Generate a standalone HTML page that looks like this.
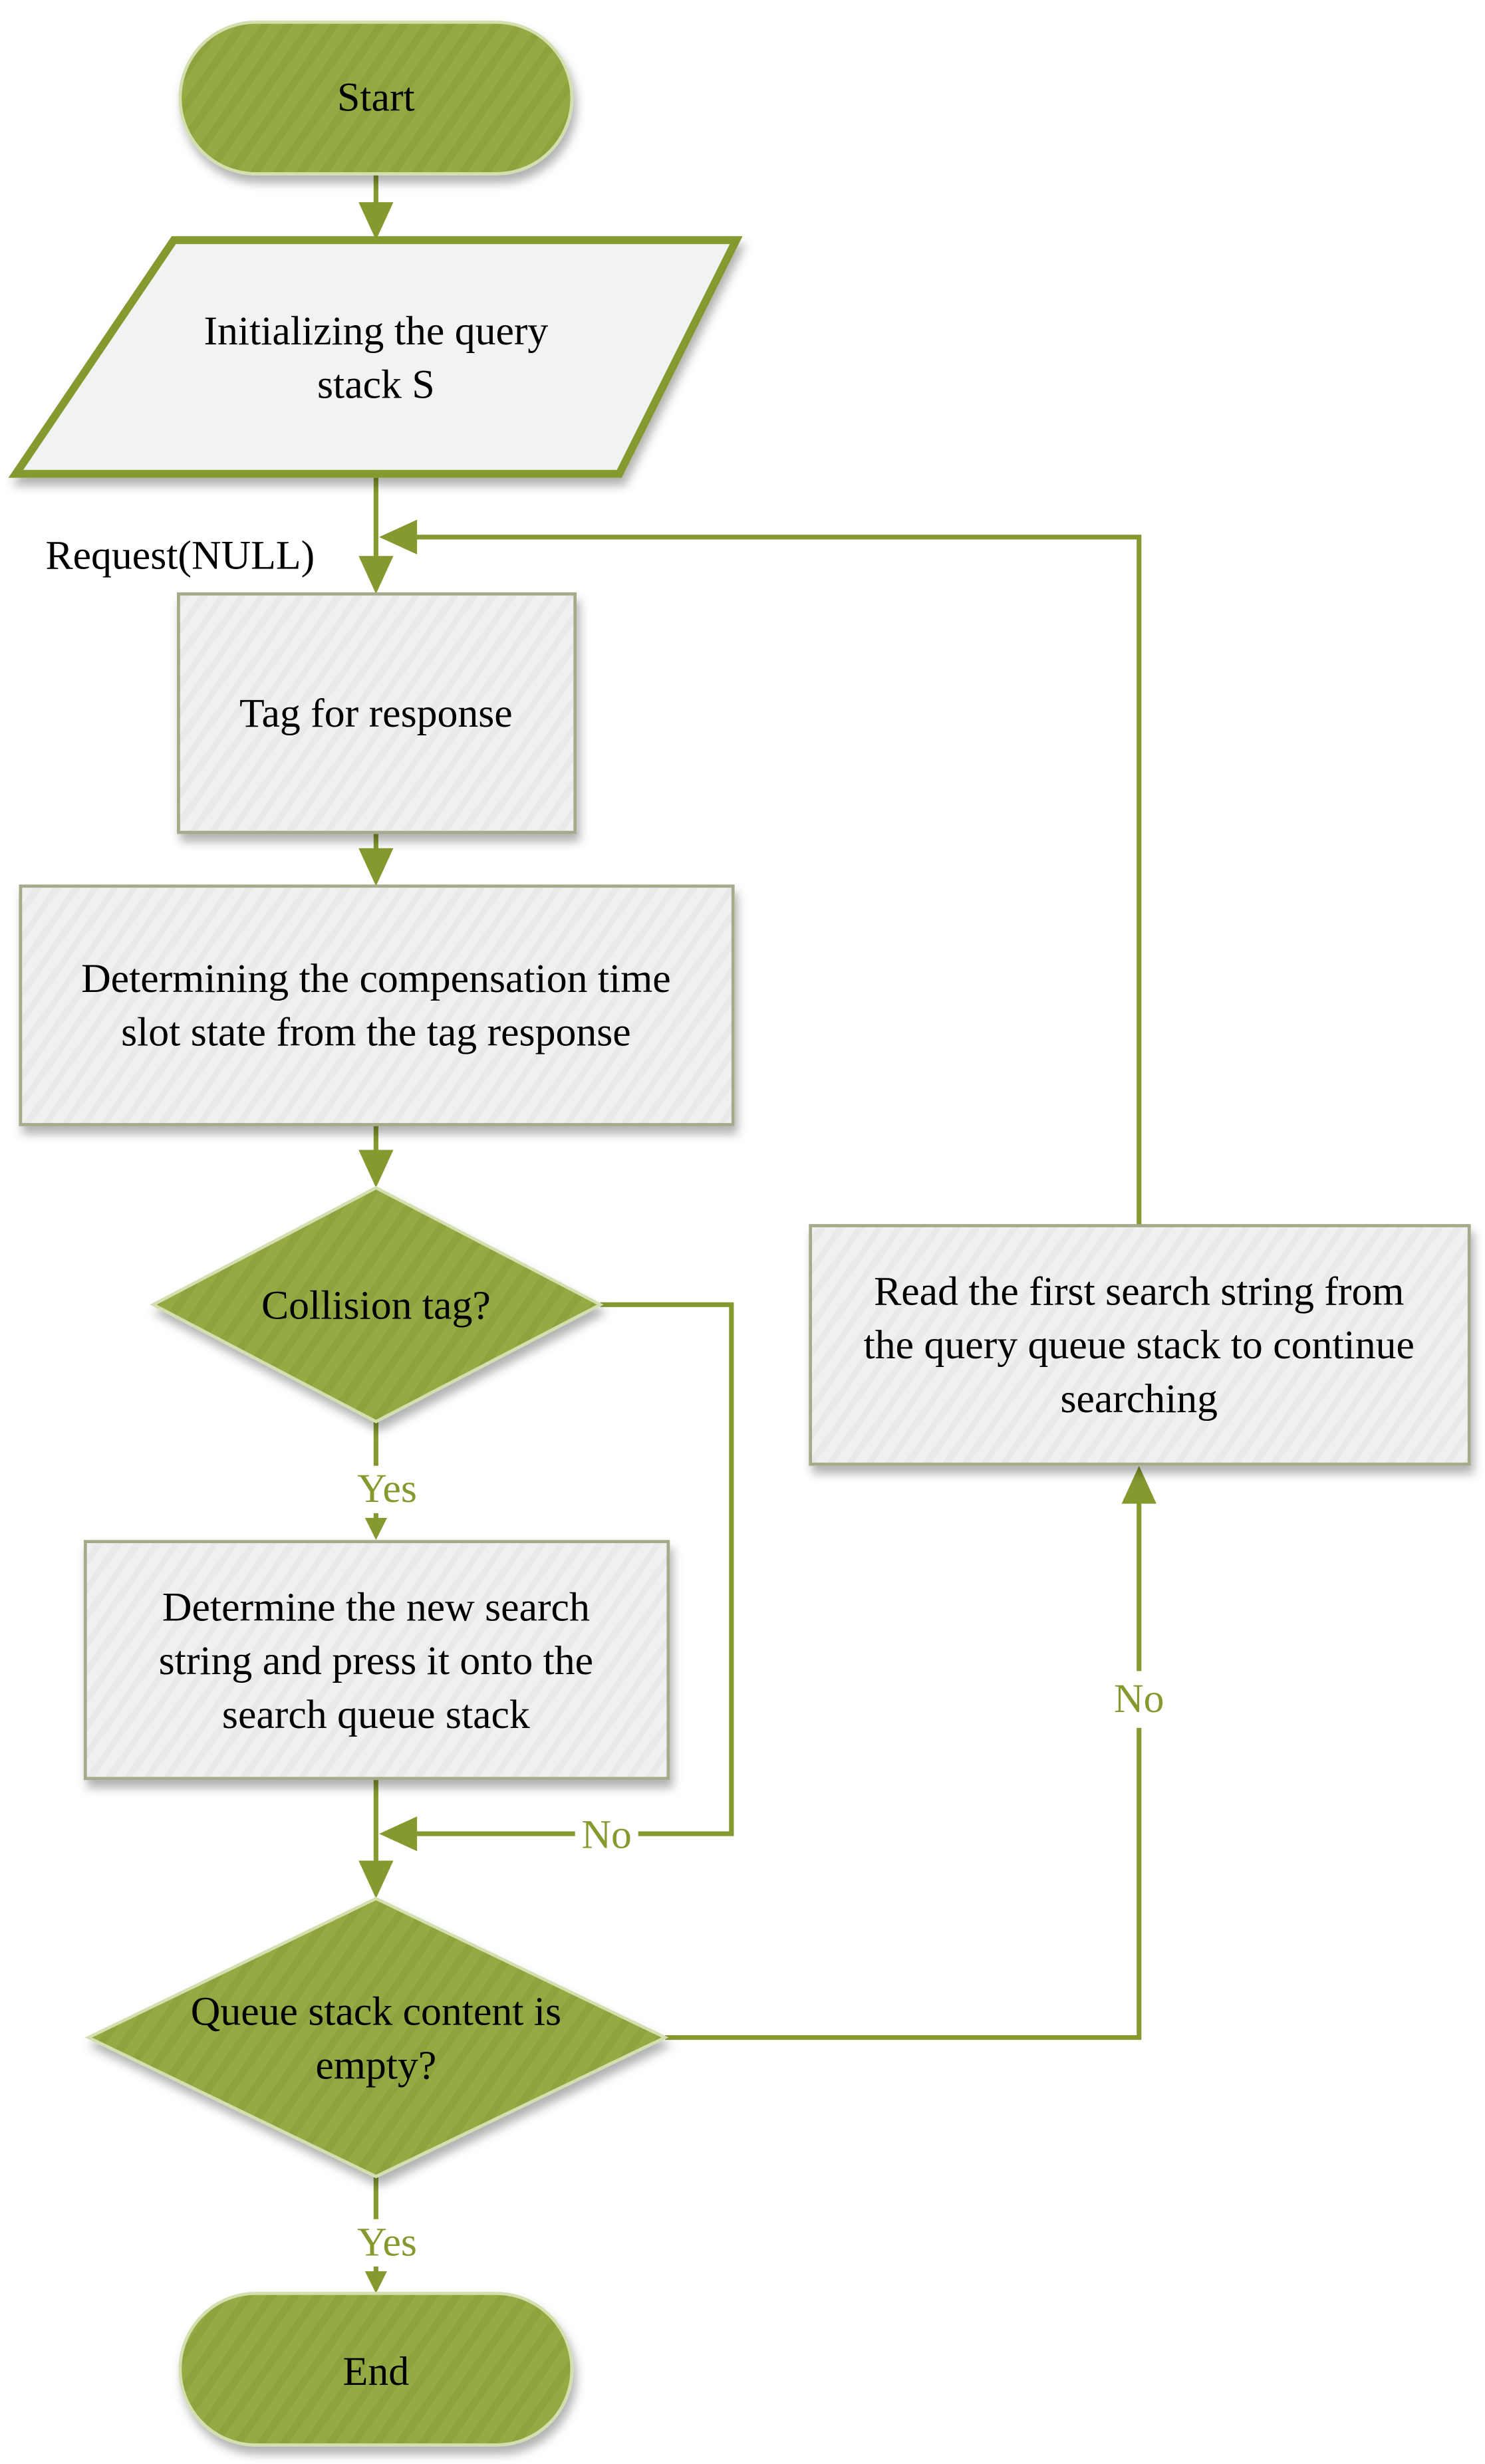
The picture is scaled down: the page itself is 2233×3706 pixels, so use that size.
<!DOCTYPE html>
<html><head><meta charset="utf-8"><style>
html,body{margin:0;padding:0;background:#fff}
svg{display:block}
text{font-family:"Liberation Serif",serif;font-size:26px;text-anchor:middle}
</style></head><body>
<svg width="2233" height="3706" viewBox="0 0 940 1560" xmlns="http://www.w3.org/2000/svg">
<defs>
<filter id="sh" x="-10%" y="-10%" width="130%" height="140%"><feDropShadow dx="2" dy="5" stdDeviation="3" flood-color="#000" flood-opacity="0.3"/></filter>
<pattern id="gp" width="12" height="12" patternUnits="userSpaceOnUse" patternTransform="rotate(35)"><rect width="12" height="12" fill="#94aa43"/><rect width="5" height="12" fill="#8ea33d"/></pattern>
<pattern id="wp" width="10" height="10" patternUnits="userSpaceOnUse" patternTransform="rotate(35)"><rect width="10" height="10" fill="#f0f0f0"/><rect width="4" height="10" fill="#e9e9e9"/></pattern>
</defs>
<g stroke="#84992e" stroke-width="3" fill="none">
<line x1="238" y1="110" x2="238" y2="130"/>
<line x1="238" y1="300" x2="238" y2="356"/>
<polyline points="721,776 721,340 262,340"/>
<line x1="238" y1="527" x2="238" y2="541"/>
<line x1="238" y1="712" x2="238" y2="732"/>
<line x1="238" y1="900" x2="238" y2="928"/>
<line x1="238" y1="958" x2="238" y2="962"/>
<polyline points="380,826 463,826 463,1161 404,1161"/>
<line x1="364" y1="1161" x2="262" y2="1161"/>
<line x1="238" y1="1126" x2="238" y2="1182"/>
<polyline points="421,1290 721,1290 721,1094"/>
<line x1="721" y1="1058" x2="721" y2="950"/>
<line x1="238" y1="1378" x2="238" y2="1405"/>
<line x1="238" y1="1435" x2="238" y2="1440"/>
</g>
<g fill="#84992e">
<polygon points="227,128 249,128 238,152"/>
<polygon points="227,352 249,352 238,376"/>
<polygon points="240,340 264,329 264,351"/>
<polygon points="227,537 249,537 238,561"/>
<polygon points="227,728 249,728 238,752"/>
<polygon points="231,961 245,961 238,975"/>
<polygon points="240,1161 264,1150 264,1172"/>
<polygon points="227,1178 249,1178 238,1202"/>
<polygon points="710,952 732,952 721,928"/>
<polygon points="231,1438 245,1438 238,1452"/>
</g>
<rect x="114" y="14" width="248" height="96" rx="48" fill="url(#gp)" stroke="#d4dfb0" stroke-width="2" filter="url(#sh)"/>
<polygon points="110,152 466,152 392,300 10,300" fill="#f2f2f2" stroke="#84992e" stroke-width="5" filter="url(#sh)"/>
<rect x="113" y="376" width="251" height="151" fill="url(#wp)" stroke="#a4ab8a" stroke-width="2" filter="url(#sh)"/>
<rect x="13" y="561" width="451" height="151" fill="url(#wp)" stroke="#a4ab8a" stroke-width="2" filter="url(#sh)"/>
<polygon points="238,752 380,826 238,900 97,826" fill="url(#gp)" stroke="#d4dfb0" stroke-width="2" filter="url(#sh)"/>
<rect x="54" y="976" width="369" height="150" fill="url(#wp)" stroke="#a4ab8a" stroke-width="2" filter="url(#sh)"/>
<polygon points="238,1202 421,1290 238,1378 56,1290" fill="url(#gp)" stroke="#d4dfb0" stroke-width="2" filter="url(#sh)"/>
<rect x="513" y="776" width="417" height="151" fill="url(#wp)" stroke="#a4ab8a" stroke-width="2" filter="url(#sh)"/>
<rect x="114" y="1452" width="248" height="96" rx="48" fill="url(#gp)" stroke="#d4dfb0" stroke-width="2" filter="url(#sh)"/>
<g fill="#000">
<text x="238" y="70">Start</text>
<text x="238" y="218">Initializing the query</text>
<text x="238" y="252">stack S</text>
<text x="114" y="360">Request(NULL)</text>
<text x="238" y="460">Tag for response</text>
<text x="238" y="628">Determining the compensation time</text>
<text x="238" y="662">slot state from the tag response</text>
<text x="238" y="835">Collision tag?</text>
<text x="238" y="1026">Determine the new search</text>
<text x="238" y="1060">string and press it onto the</text>
<text x="238" y="1094">search queue stack</text>
<text x="238" y="1282">Queue stack content is</text>
<text x="238" y="1316">empty?</text>
<text x="721" y="826">Read the first search string from</text>
<text x="721" y="860">the query queue stack to continue</text>
<text x="721" y="894">searching</text>
<text x="238" y="1510">End</text>
</g>
<g fill="#84992e">
<text x="245" y="951">Yes</text>
<text x="384" y="1170">No</text>
<text x="721" y="1084">No</text>
<text x="245" y="1428">Yes</text>
</g>
</svg>
</body></html>
